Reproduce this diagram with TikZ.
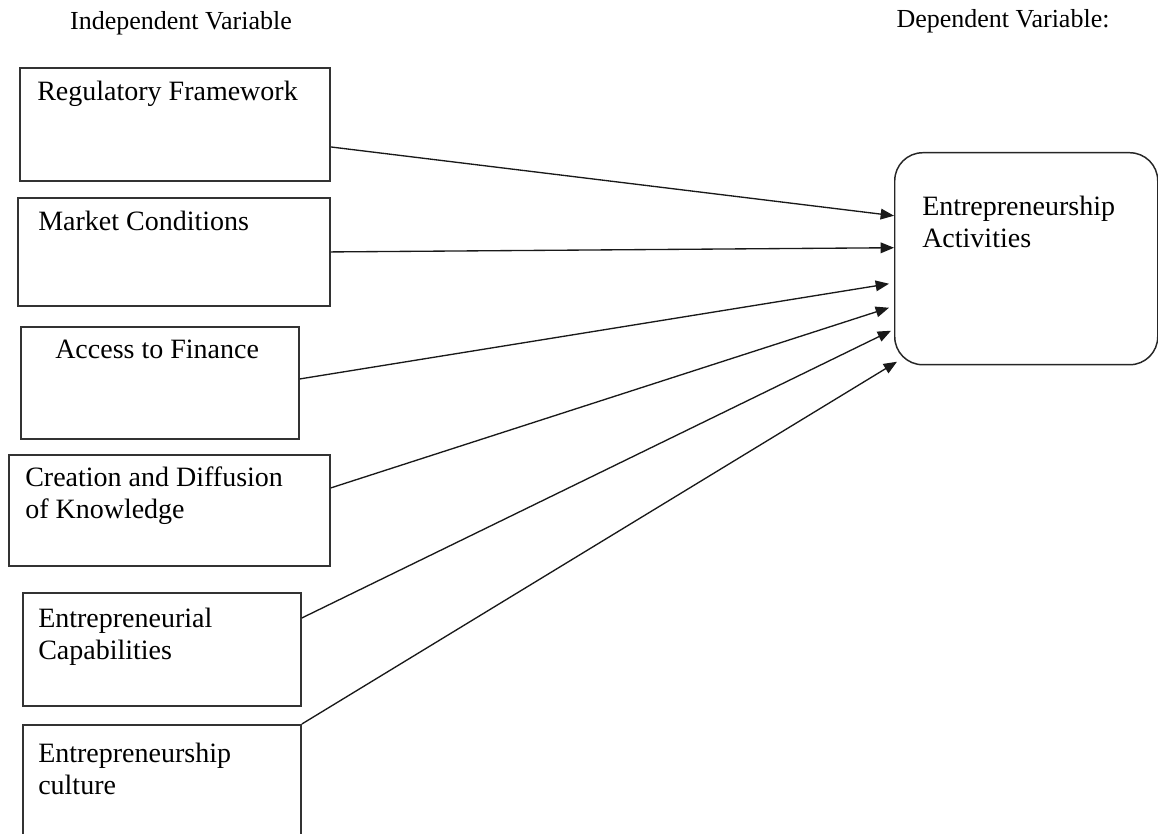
\documentclass[tikz,border=0pt]{standalone}
\usepackage{fontspec}
\setmainfont{Liberation Serif}
\usetikzlibrary{arrows.meta}

\begin{document}
\begin{tikzpicture}[
    x=0.75pt,
    y=-0.75pt,
    heading/.style={
        anchor=base,
        font=\fontsize{19.5}{23}\selectfont
    },
    factor/.style={
        rectangle,
        draw=black!80,
        line width=1.4pt,
        anchor=north west,
        inner sep=0pt
    },
    outcome/.style={
        rectangle,
        rounded corners=21pt,
        draw=black!85,
        line width=1.1pt,
        anchor=north west,
        inner sep=0pt
    },
    caption/.style={
        anchor=north west,
        align=left,
        inner sep=0pt,
        font=\fontsize{21}{24}\selectfont
    },
    link/.style={
        -{Triangle[length=10pt,width=8pt]},
        line width=1pt,
        draw=black!90
    }
]

\useasboundingbox (0,0) rectangle (1158,834);

\node[heading] (indep) at (181,30) {Independent Variable};
\node[heading] (dep) at (1003,28) {Dependent Variable:};

% Independent variables
\node[factor, minimum width=232.5pt, minimum height=84.75pt,
      label={[caption, xshift=13.5pt, yshift=-10.5pt]north west:Regulatory Framework}]
      (reg) at (19,67) {};
\node[factor, minimum width=234pt, minimum height=81pt,
      label={[caption, xshift=15.75pt, yshift=-10.5pt]north west:Market Conditions}]
      (market) at (17,197) {};
\node[factor, minimum width=208.5pt, minimum height=84pt,
      label={[caption, xshift=26.25pt, yshift=-10.5pt]north west:Access to Finance}]
      (access) at (20,326) {};
\node[factor, minimum width=240.75pt, minimum height=83.25pt,
      label={[caption, xshift=12.75pt, yshift=-9.75pt]north west:Creation and Diffusion\\of Knowledge}]
      (creation) at (8,454) {};
\node[factor, minimum width=208.5pt, minimum height=84.75pt,
      label={[caption, xshift=12pt, yshift=-12pt]north west:Entrepreneurial\\Capabilities}]
      (capab) at (22,592) {};
\node[factor, minimum width=208.5pt, minimum height=97.5pt,
      label={[caption, xshift=12pt, yshift=-14.25pt]north west:Entrepreneurship\\culture}]
      (culture) at (22,724) {};

% Dependent variable
\node[outcome, minimum width=197.25pt, minimum height=159pt,
      label={[caption, xshift=21pt, yshift=-33pt]north west:Entrepreneurship\\Activities}]
      (act) at (894,152) {};

% Arrows
\draw[link] ([yshift=-16.9pt]reg.east) -- ([yshift=32.25pt]act.west);
\draw[link] (market.east) -- ([yshift=8.25pt]act.west);
\draw[link] ([yshift=3pt]access.east) -- ([xshift=-3.75pt, yshift=-18.75pt]act.west);
\draw[link] ([yshift=16.9pt]creation.east) -- ([xshift=-3.75pt, yshift=-36.75pt]act.west);
\draw[link] ([yshift=23.6pt]capab.east) -- ([xshift=-2.25pt, yshift=-54pt]act.west);
\draw[link] (culture.north east) -- ([xshift=2.25pt, yshift=-77.25pt]act.west);

\end{tikzpicture}
\end{document}
